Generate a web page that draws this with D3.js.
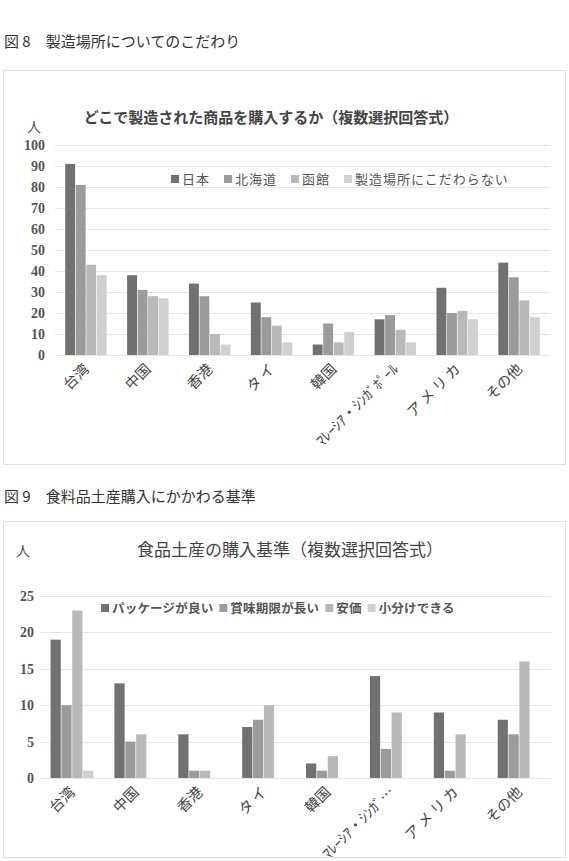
<!DOCTYPE html>
<html lang="ja">
<head>
<meta charset="UTF-8" />
<title>図8・図9</title>
<style>
  html, body { margin:0; padding:0; background:#fff; }
  svg { display:block; }
  text { font-family:"Liberation Serif", "Noto Sans CJK JP", serif; fill:#333; }
  .jp { font-family:"Noto Sans CJK JP", sans-serif; }
</style>
</head>
<body>
<svg id="chart" width="569" height="861"></svg>
<script src="https://d3js.org/d3.v7.min.js"></script>
<script>
// ---- data: figure 8 ----
const countries8 = ["台湾","中国","香港","タ イ","韓国","ﾏﾚｰｼｱ・ｼﾝｶﾞﾎﾟｰﾙ","ア メ リ カ","その他"];
const series8 = ["日本","北海道","函館","製造場所にこだわらない"];
const japan8    = [91, 38, 34, 25, 5, 17, 32, 44];
const hokkaido8 = [81, 31, 28, 18, 15, 19, 20, 37];
const hakodate8 = [43, 28, 10, 14, 6, 12, 21, 26];
const any8      = [38, 27, 5, 6, 11, 6, 17, 18];
const ticks8 = [0,10,20,30,40,50,60,70,80,90,100];

// ---- data: figure 9 ----
const countries9 = ["台湾","中国","香港","タ イ","韓国","ﾏﾚｰｼｱ・ｼﾝｶﾞ…","ア メ リ カ","その他"];
const series9 = ["パッケージが良い","賞味期限が長い","安価","小分けできる"];
const pkg9   = [19, 13, 6, 7, 2, 14, 9, 8];
const shelf9 = [10, 5, 1, 8, 1, 4, 1, 6];
const cheap9 = [23, 6, 1, 10, 3, 9, 6, 16];
const small9 = [1, 0, 0, 0, 0, 0, 0, 0];
const ticks9 = [0,5,10,15,20,25];

const colors = ["#717171","#9b9b9b","#b9b9b9","#d0d0d0"];

const svg = d3.select("#chart");

function drawChart(o) {
  const g = svg.append("g");
  // frame
  g.append("rect").attr("x", o.box[0]).attr("y", o.box[1])
    .attr("width", o.box[2]).attr("height", o.box[3])
    .attr("fill", "#fff").attr("stroke", "#e2e2e2").attr("stroke-width", 1);

  const x0 = d3.scaleBand().domain(o.cats).range([o.x[0], o.x[1]]).paddingInner(0.31).paddingOuter(0.155);
  const x1 = d3.scaleBand().domain(d3.range(o.values.length)).range([0, x0.bandwidth()]).padding(0.06);
  const y = d3.scaleLinear().domain([0, o.max]).range([o.y[0], o.y[1]]);

  // grid
  g.selectAll(".grid").data(o.ticks).join("line")
    .attr("x1", o.x[0]).attr("x2", o.x[1])
    .attr("y1", d => Math.round(y(d)) + 0.5).attr("y2", d => Math.round(y(d)) + 0.5)
    .attr("stroke", "#e6e6e6").attr("stroke-width", 1.2);

  // y labels
  g.selectAll(".yl").data(o.ticks).join("text")
    .attr("x", o.tickX).attr("y", d => y(d)).attr("dy", "0.35em")
    .attr("text-anchor", "end").attr("font-size", o.tickSize).attr("font-weight", "bold")
    .style("fill", "#555").text(d => d);

  // bars
  o.values.forEach((vals, si) => {
    g.selectAll(".b" + si).data(vals).join("rect")
      .attr("x", (d, i) => x0(o.cats[i]) + x1(si))
      .attr("y", d => y(d))
      .attr("width", x1.bandwidth())
      .attr("height", d => y(0) - y(d))
      .attr("fill", colors[si]);
  });

  // x labels
  g.selectAll(".xl").data(o.cats).join("text")
    .attr("class", "jp")
    .attr("transform", d => `translate(${x0(d) + x0.bandwidth() / 2 + 4},${o.y[0] + 15}) rotate(-45)`)
    .attr("text-anchor", "end").attr("font-size", 14.5).style("fill", "#444")
    .text(d => d);

  // unit
  g.append("text").attr("class", "jp").attr("x", o.unit[0]).attr("y", o.unit[1])
    .attr("font-size", 14).attr("text-anchor", "middle").style("fill", "#555").text("人");

  // title
  g.append("text").attr("class", "jp").attr("x", o.title[0]).attr("y", o.title[1])
    .attr("text-anchor", "middle").attr("font-size", o.titleSize)
    .attr("font-weight", o.titleBold ? "bold" : "normal").style("fill", "#444")
    .text(o.titleText);

  // legend
  const lg = g.append("g").attr("transform", `translate(${o.legend[0]},${o.legend[1]})`);
  let lx = 0;
  o.series.forEach((s, i) => {
    lg.append("rect").attr("x", lx).attr("y", -4).attr("width", 8).attr("height", 8).attr("fill", colors[i]);
    const t = lg.append("text").attr("class", "jp").attr("x", lx + 11).attr("y", 0).attr("dy", "0.36em")
      .attr("font-size", o.legendSize).attr("font-weight", o.legendBold ? "bold" : "normal")
      .attr("letter-spacing", o.legendSpacing)
      .style("fill", "#555").text(s);
    lx += 11 + t.node().getComputedTextLength() + o.legendGap;
  });
}

// captions
svg.append("text").attr("class", "jp").attr("x", 4).attr("y", 47).attr("font-size", 15).style("fill", "#333")
  .text("図 8　製造場所についてのこだわり");
svg.append("text").attr("class", "jp").attr("x", 4).attr("y", 502).attr("font-size", 15).style("fill", "#333")
  .text("図 9　食料品土産購入にかかわる基準");

drawChart({
  box: [3.5, 70.5, 562, 394],
  cats: countries8, series: series8,
  values: [japan8, hokkaido8, hakodate8, any8],
  max: 100, ticks: ticks8,
  x: [55, 550], y: [355, 145],
  tickX: 45, tickSize: 14,
  unit: [34, 132],
  title: [271, 123], titleSize: 15, titleBold: true,
  titleText: "どこで製造された商品を購入するか（複数選択回答式）",
  legend: [171, 179], legendSize: 13, legendBold: false, legendGap: 14, legendSpacing: 1
});

drawChart({
  box: [3.5, 521.5, 562, 336],
  cats: countries9, series: series9,
  values: [pkg9, shelf9, cheap9, small9],
  max: 25, ticks: ticks9,
  x: [40, 551], y: [778, 596],
  tickX: 34, tickSize: 14,
  unit: [23, 556],
  title: [290, 556], titleSize: 17, titleBold: false,
  titleText: "食品土産の購入基準（複数選択回答式）",
  legend: [101, 608], legendSize: 12.5, legendBold: true, legendGap: 6, legendSpacing: 0.2
});
</script>
</body>
</html>
